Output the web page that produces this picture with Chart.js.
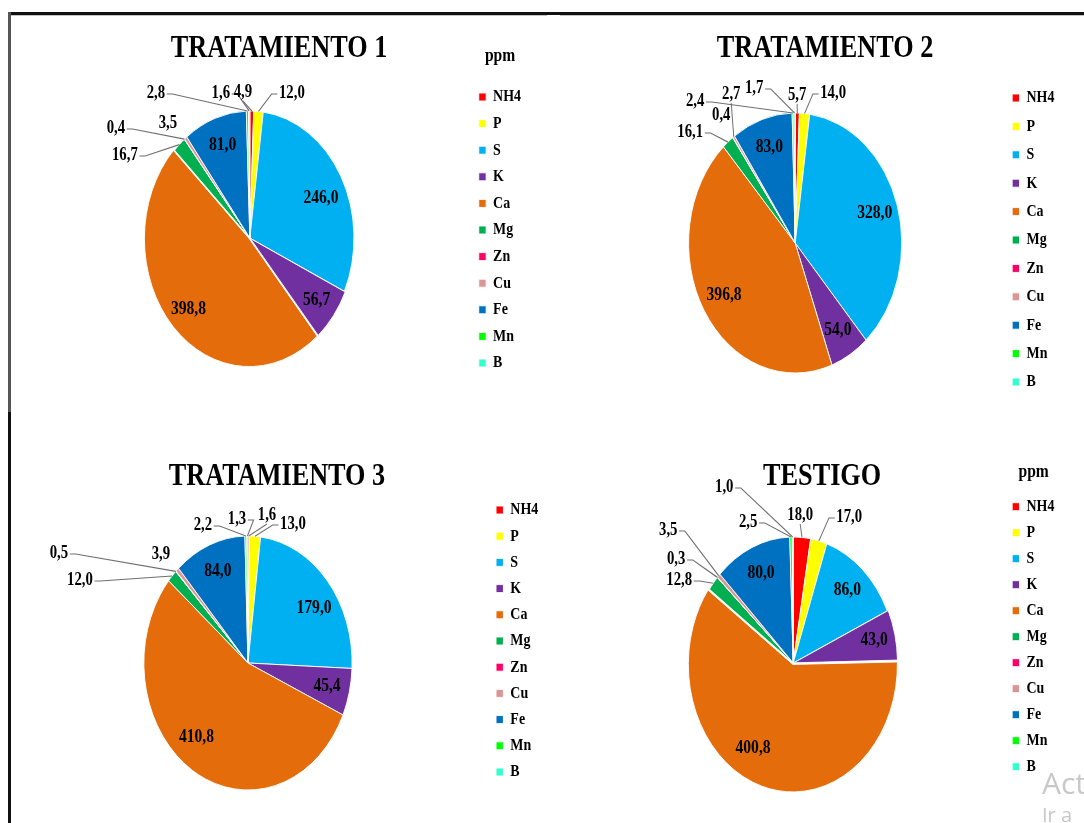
<!DOCTYPE html>
<html>
<head>
<meta charset="utf-8">
<title>Tratamientos - ppm</title>
<script src="https://cdn.jsdelivr.net/npm/chart.js@4.4.1/dist/chart.umd.min.js"></script>
<style>
  html, body { margin: 0; padding: 0; background: #fff; width: 1084px; height: 823px; overflow: hidden; }
  #escena { position: absolute; left: 0; top: 0; width: 1084px; height: 823px; overflow: hidden; }
  #escena canvas { position: absolute; }
  .linea { position: absolute; }
  .marca { position: absolute; font-family: "Open Sans", "Noto Sans", sans-serif; color: #c8c8c8; white-space: nowrap; }
</style>
</head>
<body>
<div id="escena">
  <!-- el lienzo se maqueta ancho y se dibuja comprimido al 82 % en horizontal -->
  <canvas id="c1" width="660" height="420" style="left:8.2px;top:0px;"></canvas>
  <canvas id="c2" width="630" height="420" style="left:565.8px;top:0px;"></canvas>
  <canvas id="c3" width="680" height="420" style="left:0px;top:428px;"></canvas>
  <canvas id="c4" width="630" height="420" style="left:565.8px;top:428px;"></canvas>
</div>

<!-- marco -->
<div class="linea" style="left:8px;top:12px;width:1076px;height:3px;background:#111;"></div>
<div class="linea" style="left:8px;top:15px;width:539px;height:1px;background:#c4c4c4;"></div>
<div class="linea" style="left:560px;top:15px;width:524px;height:1px;background:#c4c4c4;"></div>
<div class="linea" style="left:8px;top:12px;width:3px;height:400px;background:#555;"></div>
<div class="linea" style="left:8px;top:412px;width:3px;height:411px;background:#111;"></div>

<div class="marca" style="left:1042px;top:762px;font-size:30px;">Act</div>
<div class="marca" style="left:1042px;top:801px;font-size:20px;">Ir a</div>

<script>
// datos (ppm)
const nutrientes = ['NH4', 'P', 'S', 'K', 'Ca', 'Mg', 'Zn', 'Cu', 'Fe', 'Mn', 'B'];
const tratamiento1 = [4.9, 12.0, 246.0, 56.7, 398.8, 16.7, 0.4, 3.5, 81.0, 2.8, 1.6];
const tratamiento2 = [5.7, 14.0, 328.0, 54.0, 396.8, 16.1, 0.4, 2.7, 83.0, 2.4, 1.7];
const tratamiento3 = [1.6, 13.0, 179.0, 45.4, 410.8, 12.0, 0.5, 3.9, 84.0, 2.2, 1.3];
const testigo = [18.0, 17.0, 86.0, 43.0, 400.8, 12.8, 0.3, 3.5, 80.0, 2.5, 1.0];

const colores = ['#FF0000', '#FFFF00', '#00B0F0', '#7030A0', '#E46C0A', '#00B050',
                 '#FF0066', '#D99694', '#0070C0', '#00FF00', '#33FFCC'];

const SERIF = '"Liberation Serif", "Times New Roman", serif';
const ESCALA_X = 0.82;

// 398,8 -> formato con coma decimal
const fmt = v => v.toFixed(1).replace('.', ',');

// comprime todo el dibujo en horizontal (tortas elípticas, letra estrecha)
const comprimir = {
  id: 'comprimir',
  beforeDraw(chart) {
    chart.ctx.save();
    chart.ctx.scale(ESCALA_X, 1);
  },
  afterDraw(chart) {
    chart.ctx.restore();
  }
};

// plugin de etiquetas con líneas guía
const etiquetas = {
  id: 'etiquetas',
  afterDatasetsDraw(chart, args, opts) {
    const ctx = chart.ctx;
    const meta = chart.getDatasetMeta(0);
    const valores = chart.data.datasets[0].data;
    const externas = opts.externas || [];
    const fuera = externas.map(e => e[0]);
    const desplaza = opts.desplaza || {};

    ctx.save();
    ctx.fillStyle = '#000';
    ctx.textAlign = 'center';
    ctx.textBaseline = 'middle';

    // dentro de la torta
    ctx.font = 'bold 19px ' + SERIF;
    meta.data.forEach((arc, i) => {
      if (fuera.includes(i)) return;
      const mid = (arc.startAngle + arc.endAngle) / 2;
      const r = arc.outerRadius * 0.78 + (arc.options.offset || 0);
      const d = desplaza[i] || [0, 0];
      ctx.fillText(fmt(valores[i]), arc.x + Math.cos(mid) * r + d[0], arc.y + Math.sin(mid) * r + d[1]);
    });

    // fuera, con guía
    ctx.font = 'bold 18px ' + SERIF;
    ctx.strokeStyle = '#6e6e6e';
    ctx.lineWidth = 1.2;
    externas.forEach(([i, dx, dy, lado]) => {
      const arc = meta.data[i];
      const txt = fmt(valores[i]);
      const lx = arc.x + dx, ly = arc.y + dy;
      ctx.fillText(txt, lx, ly);
      if (!lado) return;
      const w = ctx.measureText(txt).width;
      const mid = (arc.startAngle + arc.endAngle) / 2;
      const rr = arc.outerRadius + (arc.options.offset || 0);
      const ex = arc.x + Math.cos(mid) * rr, ey = arc.y + Math.sin(mid) * rr;
      ctx.beginPath();
      if (lado === 'b') {
        ctx.moveTo(lx, ly + 9);
        ctx.lineTo(ex, ey);
      } else {
        const s = lado === 'r' ? 1 : -1;
        const sx = lx + s * (w / 2 + 2);
        ctx.moveTo(sx, ly + 1);
        ctx.lineTo(sx + s * 7, ly + 1);
        ctx.lineTo(ex, ey);
      }
      ctx.stroke();
    });
    ctx.restore();
  }
};

function crearTorta(id, titulo, valores, cfg) {
  const ctx = document.getElementById(id);
  return new Chart(ctx, {
    type: 'pie',
    data: {
      labels: nutrientes,
      datasets: [{
        data: valores,
        backgroundColor: colores,
        borderColor: '#ffffff',
        borderWidth: 1,
        radius: cfg.radio,
        offset: nutrientes.map((n, i) => cfg.offsets[i] || 0),
        clip: false
      }]
    },
    options: {
      responsive: false,
      animation: false,
      devicePixelRatio: 1,
      layout: { padding: cfg.pad },
      plugins: {
        title: {
          display: true,
          text: titulo,
          color: '#000',
          font: { family: SERIF, size: 32, weight: 'bold' },
          padding: { top: 30, bottom: 0 }
        },
        legend: {
          position: 'right',
          align: 'start',
          title: {
            display: true,
            text: cfg.ppm ? 'ppm' : '',
            color: '#000',
            font: { family: SERIF, size: 19, weight: 'bold' },
            padding: cfg.legTitulo
          },
          labels: {
            color: '#000',
            boxWidth: 9,
            boxHeight: 8,
            padding: cfg.legPad,
            font: { family: SERIF, size: 17, weight: 'bold' }
          }
        },
        tooltip: { enabled: false },
        etiquetas: { externas: cfg.externas, desplaza: cfg.desplaza }
      }
    },
    plugins: [comprimir, etiquetas]
  });
}

function dibujar() {
  // [índice, dx, dy, lado de la guía]
  crearTorta('c1', 'TRATAMIENTO 1', tratamiento1, {
    radio: 127, ppm: true, legPad: 9.6,
    pad: { left: 25.4, right: 24.4, top: 0, bottom: 12.4 },
    legTitulo: { top: 46.5, bottom: 9.6 },
    offsets: { 3: 3, 4: 4 },
    desplaza: { 2: [0, 8] },
    externas: [
      [9, -114.6, -145, 'r'], [10, -35.4, -145, 'r'], [0, -8.5, -146, 'b'], [1, 51.2, -145, 'l'],
      [7, -100, -115, ''], [6, -163.4, -110, 'r'], [5, -152.4, -83, 'r']
    ]
  });

  crearTorta('c2', 'TRATAMIENTO 2', tratamiento2, {
    radio: 130, ppm: false, legPad: 11.4,
    pad: { left: 26.3, right: 24.4, top: 0, bottom: 2.4 },
    legTitulo: { top: 55.3, bottom: 0 },
    offsets: {},
    desplaza: {},
    externas: [
      [9, -122, -142, 'r'], [7, -78, -149, 'b'], [10, -50, -155, 'r'], [0, 2.4, -148, 'b'],
      [1, 46.3, -150, 'l'], [6, -90.2, -128, ''], [5, -128, -111, 'r']
    ]
  });

  crearTorta('c3', 'TRATAMIENTO 3', tratamiento3, {
    radio: 127, ppm: false, legPad: 9.2,
    pad: { left: 9.1, right: 13.6, top: 0, bottom: 18.4 },
    legTitulo: { top: 41.5, bottom: 0 },
    offsets: {},
    desplaza: { 2: [5, 9], 4: [-10, -10] },
    externas: [
      [9, -54.9, -138, 'r'], [10, -13.4, -144, 'r'], [0, 23.2, -148, 'b'], [1, 54.9, -139, 'l'],
      [6, -230.5, -110, 'r'], [7, -106.1, -109, ''], [5, -204.9, -83, 'r']
    ]
  });

  crearTorta('c4', 'TESTIGO', testigo, {
    radio: 126, ppm: true, legPad: 9.0,
    pad: { left: 19.1, right: 24.4, top: 0, bottom: 18.4 },
    legTitulo: { top: 34.5, bottom: 3.9 },
    offsets: { 3: 3, 4: 6 },
    desplaza: { 4: [-18, -14] },
    externas: [
      [10, -84.1, -176, 'r'], [9, -54.9, -141, 'r'], [0, 8.5, -148, 'b'], [1, 68.3, -146, 'l'],
      [7, -152.4, -133, 'r'], [6, -142.7, -104, 'r'], [5, -139, -83, 'r']
    ]
  });
}

// esperar a que la fuente esté lista antes de dibujar en el canvas
Promise.all([
  document.fonts.load('bold 17px "Liberation Serif"'),
  document.fonts.load('bold 32px "Liberation Serif"')
]).then(dibujar, dibujar);
</script>
</body>
</html>
